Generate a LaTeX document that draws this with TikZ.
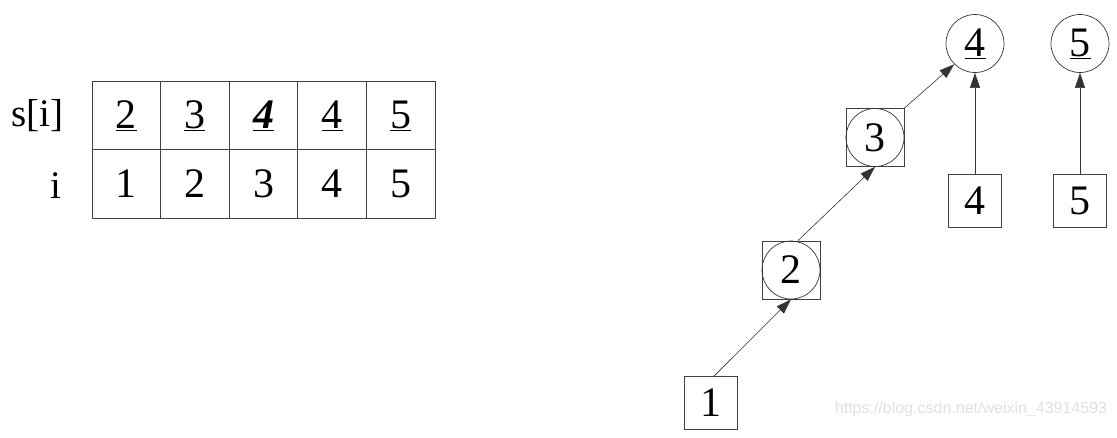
\documentclass[tikz,border=0pt]{standalone}
\usepackage{fontspec}
\setmainfont{Liberation Serif}
\newfontfamily\wmfont{Liberation Sans}
\usetikzlibrary{arrows.meta}
\begin{document}
\begin{tikzpicture}[x=1pt,y=-1pt,
  every node/.style={font=\fontsize{42}{46}\selectfont, inner sep=0pt},
  lab/.style={font=\fontsize{39}{44}\selectfont},
  cell/.style={draw=black!75, line width=0.8pt, minimum width=68.6pt, minimum height=68.5pt},
  sq/.style={draw=black!75, line width=0.8pt, minimum size=53pt},
  bigsq/.style={draw=black!75, line width=0.8pt, minimum size=58pt},
  circ/.style={draw=black!80, line width=0.7pt, circle, minimum size=58pt},
  arr/.style={draw=black!80, line width=0.6pt, -{Triangle[length=15pt,width=10pt]}}]
\useasboundingbox (0,0) rectangle (1117,437);
% table
\foreach \v [count=\k] in {{\underline{2}},{\underline{3}},{\underline{\textbf{\textit{4}}}},{\underline{4}},{\underline{5}}}{
  \node[cell] (s\k) at ({92+68.6*(\k-0.5)},115.5) {\v};
}
\foreach \v [count=\k] in {1,2,3,4,5}{
  \node[cell] (i\k) at ({92+68.6*(\k-0.5)},184) {\v};
}
\node[lab, anchor=east] (ls) at (64,116) {s[i]};
\node[lab, anchor=east] (li) at (62,186) {i};
% graph
\node[sq] (b1) at (711,403) {1};
\node[bigsq] (b2) at (791,270) {};
\node[circ] (c2) at (791,270) {2};
\node[bigsq] (b3) at (875,137.5) {};
\node[circ] (c3) at (875,137.5) {3};
\node[circ] (c4) at (975,43.5) {\underline{4}};
\node[circ] (c5) at (1080,43.5) {\underline{5}};
\node[sq] (b4) at (975,200.5) {4};
\node[sq] (b5) at (1080,200.5) {5};
\draw[arr] ([xshift=3pt]b1.north) -- (c2.south);
\draw[arr] ([xshift=7pt]b2.north) -- (c3.south);
\draw[arr] (b3.north east) -- (c4.south west);
\draw[arr] (b4.north) -- (c4.south);
\draw[arr] (b5.north) -- (c5.south);
\node[font=\wmfont\fontsize{16}{18}\selectfont, text=black!12] (wm) at (971,409) {https://blog.csdn.net/weixin\_43914593};
\end{tikzpicture}
\end{document}
